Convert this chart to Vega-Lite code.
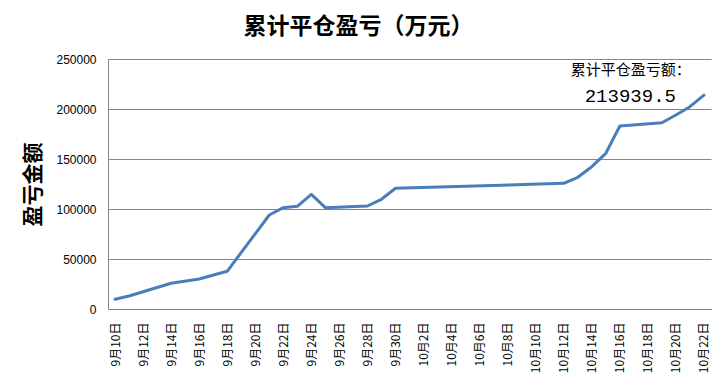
{
  "$schema": "https://vega.github.io/schema/vega-lite/v6.json",
  "width": 603,
  "height": 250,
  "autosize": {"type": "none"},
  "padding": {"left": 108, "top": 59, "right": 16, "bottom": 83},
  "background": "#ffffff",
  "config": {
    "view": {"stroke": null},
    "font": "Noto Sans CJK SC"
  },
  "title": {
    "text": "累计平仓盈亏（万元）",
    "font": "Noto Sans CJK SC",
    "fontSize": 23,
    "fontWeight": "bold",
    "color": "#000000",
    "anchor": "middle",
    "baseline": "bottom",
    "offset": -9,
    "dx": -51
  },
  "datasets": {
    "pnl": [
      {"date": "2015/09/10", "value": 9700},
      {"date": "2015/09/11", "value": 13000},
      {"date": "2015/09/14", "value": 25700},
      {"date": "2015/09/16", "value": 30000},
      {"date": "2015/09/18", "value": 37700},
      {"date": "2015/09/21", "value": 94000},
      {"date": "2015/09/22", "value": 101300},
      {"date": "2015/09/23", "value": 102700},
      {"date": "2015/09/24", "value": 114700},
      {"date": "2015/09/25", "value": 101300},
      {"date": "2015/09/28", "value": 103000},
      {"date": "2015/09/29", "value": 109700},
      {"date": "2015/09/30", "value": 120700},
      {"date": "2015/10/12", "value": 125700},
      {"date": "2015/10/13", "value": 131700},
      {"date": "2015/10/14", "value": 142300},
      {"date": "2015/10/15", "value": 155700},
      {"date": "2015/10/16", "value": 183000},
      {"date": "2015/10/19", "value": 186300},
      {"date": "2015/10/20", "value": 194000},
      {"date": "2015/10/21", "value": 202300},
      {"date": "2015/10/22", "value": 213939.5}
    ],
    "note1": [{"date": "2015/10/12 12:00", "value": 239300, "label": "累计平仓盈亏额："}],
    "note2": [{"date": "2015/10/20", "value": 213300, "label": "213939.5"}]
  },
  "encoding": {
    "x": {
      "field": "date",
      "type": "temporal",
      "scale": {
        "domain": [
          {"year": 2015, "month": 9, "date": 9, "hours": 12},
          {"year": 2015, "month": 10, "date": 22, "hours": 12}
        ],
        "nice": false
      },
      "axis": {
        "title": null,
        "grid": false,
        "ticks": false,
        "domainColor": "#868686",
        "domainWidth": 1,
        "labelAngle": 270,
        "labelPadding": 13,
        "labelFont": "Noto Sans CJK SC",
        "labelFontSize": 12,
        "labelColor": "#000000",
        "labelOverlap": false,
        "labelFlush": false,
        "values": [
          {"year": 2015, "month": 9, "date": 10},
          {"year": 2015, "month": 9, "date": 12},
          {"year": 2015, "month": 9, "date": 14},
          {"year": 2015, "month": 9, "date": 16},
          {"year": 2015, "month": 9, "date": 18},
          {"year": 2015, "month": 9, "date": 20},
          {"year": 2015, "month": 9, "date": 22},
          {"year": 2015, "month": 9, "date": 24},
          {"year": 2015, "month": 9, "date": 26},
          {"year": 2015, "month": 9, "date": 28},
          {"year": 2015, "month": 9, "date": 30},
          {"year": 2015, "month": 10, "date": 2},
          {"year": 2015, "month": 10, "date": 4},
          {"year": 2015, "month": 10, "date": 6},
          {"year": 2015, "month": 10, "date": 8},
          {"year": 2015, "month": 10, "date": 10},
          {"year": 2015, "month": 10, "date": 12},
          {"year": 2015, "month": 10, "date": 14},
          {"year": 2015, "month": 10, "date": 16},
          {"year": 2015, "month": 10, "date": 18},
          {"year": 2015, "month": 10, "date": 20},
          {"year": 2015, "month": 10, "date": 22}
        ],
        "labelExpr": "(month(datum.value) + 1) + '月' + date(datum.value) + '日'"
      }
    },
    "y": {
      "field": "value",
      "type": "quantitative",
      "scale": {"domain": [0, 250000], "nice": false},
      "axis": {
        "title": "盈亏金额",
        "titleFont": "Noto Sans CJK SC",
        "titleFontSize": 21,
        "titleFontWeight": "bold",
        "titleColor": "#000000",
        "titleAngle": -90,
        "titleAlign": "center",
        "titleBaseline": "middle",
        "titleX": -75,
        "titleY": 125,
        "values": [0, 50000, 100000, 150000, 200000, 250000],
        "format": "d",
        "grid": true,
        "gridColor": "#868686",
        "gridWidth": 1,
        "gridOpacity": 1,
        "domainColor": "#868686",
        "ticks": false,
        "labelPadding": 12,
        "labelFont": "Liberation Sans",
        "labelFontSize": 12,
        "labelColor": "#000000"
      }
    }
  },
  "layer": [
    {
      "data": {"name": "pnl"},
      "mark": {"type": "line", "color": "#4A7EBB", "strokeWidth": 3, "strokeJoin": "round", "strokeCap": "round"}
    },
    {
      "data": {"name": "note1"},
      "mark": {"type": "text", "align": "left", "baseline": "middle", "font": "Noto Sans CJK SC", "fontSize": 15, "color": "#000000"},
      "encoding": {"text": {"field": "label"}}
    },
    {
      "data": {"name": "note2"},
      "mark": {"type": "text", "align": "right", "baseline": "middle", "font": "Liberation Mono", "fontSize": 19, "color": "#000000"},
      "encoding": {"text": {"field": "label"}}
    }
  ]
}
